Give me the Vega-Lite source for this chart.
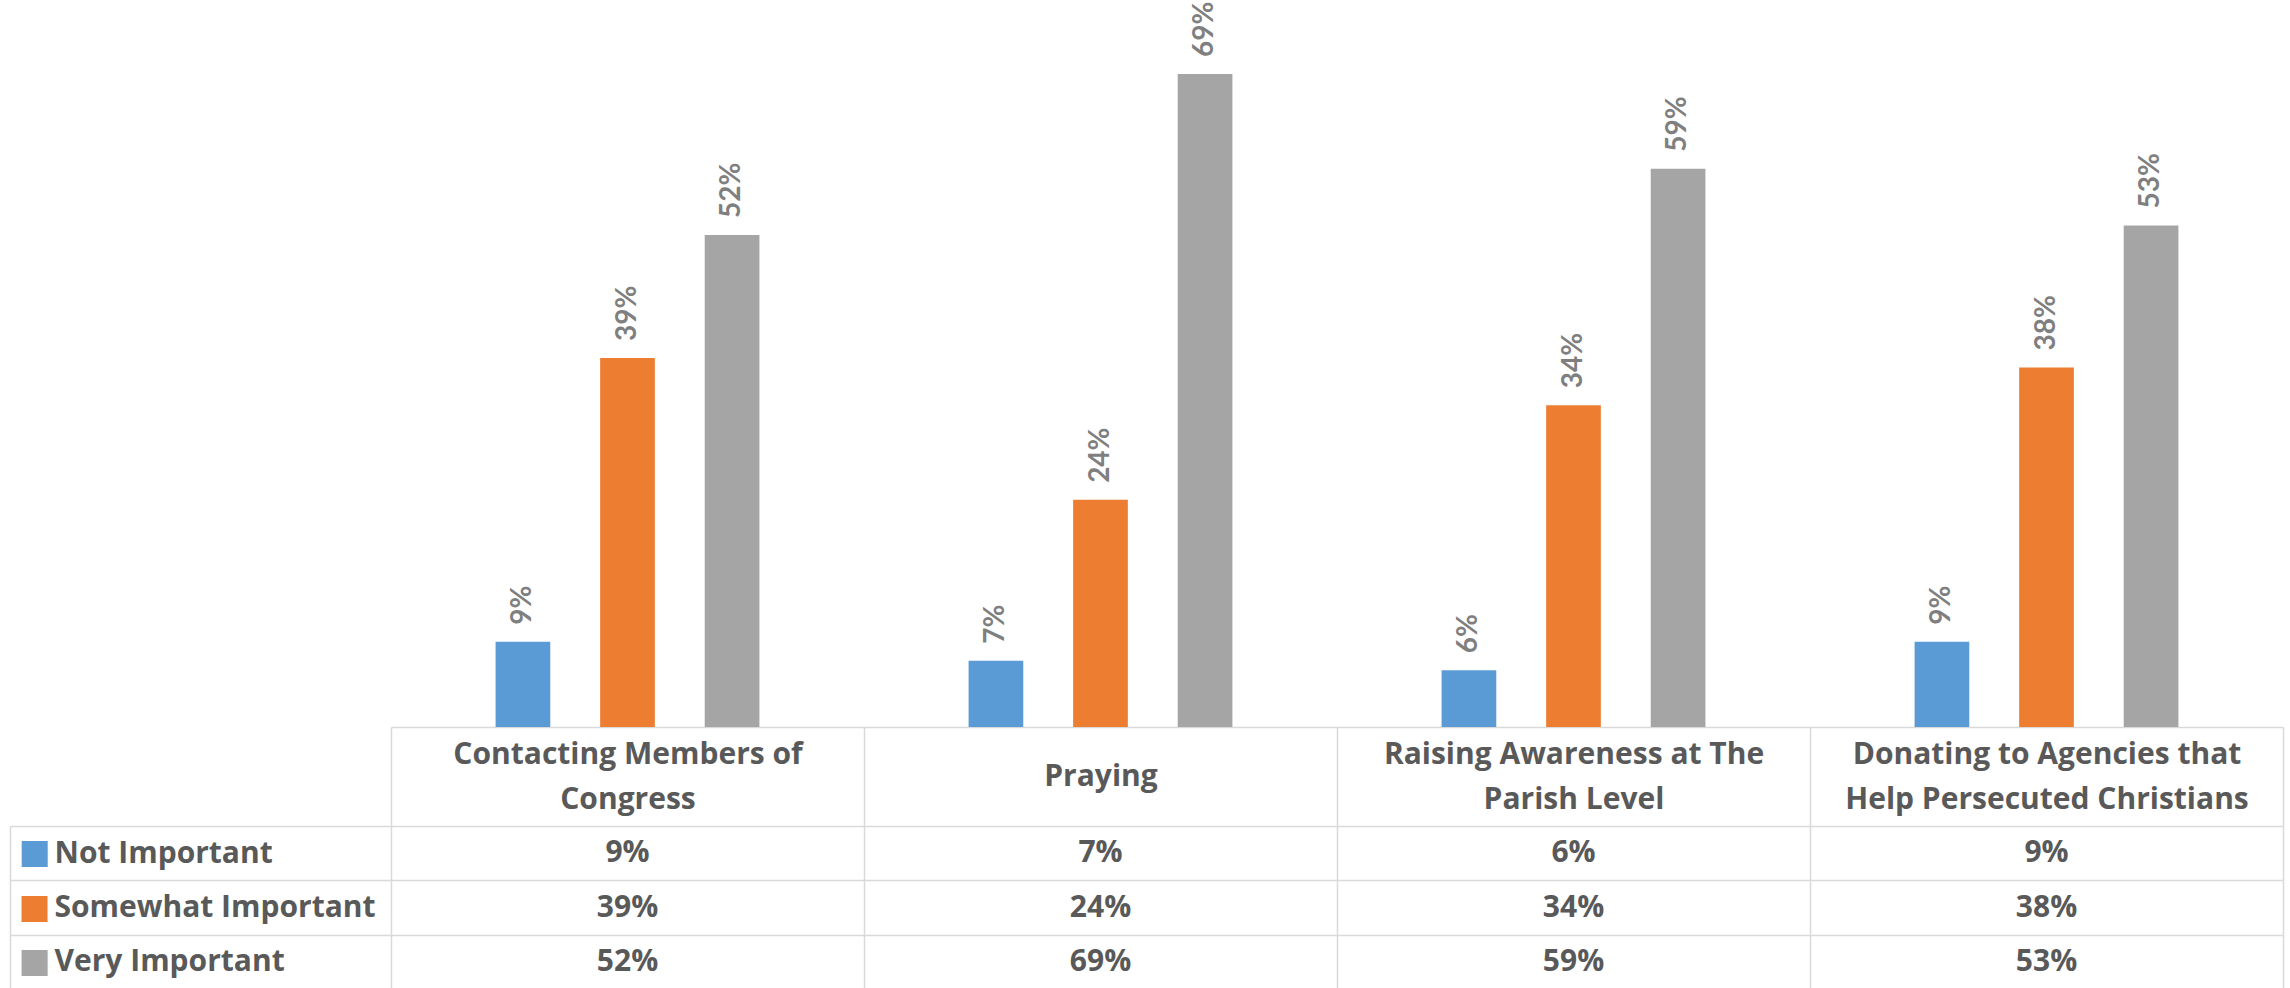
{
  "$schema": "https://vega.github.io/schema/vega-lite/v6.json",
  "background": "white",
  "padding": {"left": 9, "right": 8, "top": 0, "bottom": -2},
  "autosize": {"type": "pad"},
  "bounds": "flush",
  "spacing": 99,
  "datasets": {
    "d": [
      {"category": "Contacting Members of Congress", "series": "Not Important", "value": 0.09},
      {"category": "Contacting Members of Congress", "series": "Somewhat Important", "value": 0.39},
      {"category": "Contacting Members of Congress", "series": "Very Important", "value": 0.52},
      {"category": "Praying", "series": "Not Important", "value": 0.07},
      {"category": "Praying", "series": "Somewhat Important", "value": 0.24},
      {"category": "Praying", "series": "Very Important", "value": 0.69},
      {"category": "Raising Awareness at The Parish Level", "series": "Not Important", "value": 0.06},
      {"category": "Raising Awareness at The Parish Level", "series": "Somewhat Important", "value": 0.34},
      {"category": "Raising Awareness at The Parish Level", "series": "Very Important", "value": 0.59},
      {"category": "Donating to Agencies that Help Persecuted Christians", "series": "Not Important", "value": 0.09},
      {"category": "Donating to Agencies that Help Persecuted Christians", "series": "Somewhat Important", "value": 0.38},
      {"category": "Donating to Agencies that Help Persecuted Christians", "series": "Very Important", "value": 0.53}
    ]
  },
  "data": {"name": "d"},
  "vconcat": [
    {
      "width": 1892,
      "height": 727,
      "view": {"stroke": null},
      "encoding": {
        "x": {
          "field": "category", "type": "nominal",
          "sort": ["Contacting Members of Congress", "Praying", "Raising Awareness at The Parish Level", "Donating to Agencies that Help Persecuted Christians"],
          "scale": {"paddingInner": 0, "paddingOuter": 0},
          "axis": {"orient": "bottom", "title": null, "labels": false, "ticks": false, "grid": false, "domain": true, "domainColor": "#d9d9d9", "domainWidth": 1.5}
        },
        "xOffset": {
          "field": "series", "type": "nominal",
          "sort": ["Not Important", "Somewhat Important", "Very Important"],
          "scale": {"paddingInner": 0.477, "paddingOuter": 1.16}
        },
        "y": {
          "field": "value", "type": "quantitative",
          "scale": {"domain": [0, 0.7682], "nice": false, "zero": true},
          "axis": null
        }
      },
      "layer": [
        {
          "mark": {"type": "bar"},
          "encoding": {
            "color": {
              "field": "series", "type": "nominal",
              "scale": {"domain": ["Not Important", "Somewhat Important", "Very Important"], "range": ["#5b9bd5", "#ed7d31", "#a5a5a5"]},
              "legend": null
            }
          }
        },
        {
          "mark": {"type": "text", "angle": 270, "align": "left", "baseline": "middle", "dx": 17, "font": "Lato", "fontSize": 28, "fontWeight": "bold", "color": "#7f7f7f"},
          "encoding": {
            "text": {"field": "value", "type": "quantitative", "format": ".0%"}
          }
        }
      ]
    },
    {
      "width": 1892,
      "height": 163,
      "view": {"stroke": null},
      "layer": [
        {
          "mark": {"type": "text", "font": "Open Sans", "fontSize": 30, "fontWeight": "bold", "color": "#595959", "baseline": "middle"},
          "encoding": {
            "x": {
              "field": "category", "type": "nominal",
              "sort": ["Contacting Members of Congress", "Praying", "Raising Awareness at The Parish Level", "Donating to Agencies that Help Persecuted Christians"],
              "scale": {"paddingInner": 0, "paddingOuter": 0},
              "axis": {
                "orient": "top", "title": null, "tickBand": "extent",
                "grid": true, "gridColor": "#d9d9d9", "gridWidth": 1.5,
                "ticks": true, "tickSize": 99, "tickColor": "#d9d9d9", "tickWidth": 1.5,
                "domain": false,
                "labelExpr": "datum.value == 'Contacting Members of Congress' ? ['Contacting Members of', 'Congress'] : datum.value == 'Raising Awareness at The Parish Level' ? ['Raising Awareness at The', 'Parish Level'] : datum.value == 'Donating to Agencies that Help Persecuted Christians' ? ['Donating to Agencies that', 'Help Persecuted Christians'] : datum.value",
                "labelAngle": 0, "labelAlign": "center", "labelBaseline": "middle",
                "labelPadding": {"condition": {"test": "datum.value == 'Praying'", "value": -49.5}, "value": -27},
                "labelFont": "Open Sans", "labelFontSize": 30, "labelFontWeight": "bold",
                "labelColor": "#595959", "labelLineHeight": 45, "labelLimit": 0
              }
            },
            "y": {
              "field": "series", "type": "nominal",
              "sort": ["Not Important", "Somewhat Important", "Very Important"],
              "scale": {"paddingInner": 0, "paddingOuter": 0},
              "axis": {
                "orient": "left", "title": null, "tickBand": "extent",
                "grid": true, "gridColor": "#d9d9d9", "gridWidth": 1.5,
                "ticks": true, "tickSize": 381, "tickColor": "#d9d9d9", "tickWidth": 1.5,
                "domain": false,
                "labelAlign": "left", "labelBaseline": "middle", "labelPadding": -44,
                "labelFont": "Open Sans", "labelFontSize": 30, "labelFontWeight": "bold",
                "labelColor": "#595959", "labelLimit": 0
              }
            },
            "text": {"field": "value", "type": "quantitative", "format": ".0%"}
          }
        },
        {
          "mark": {"type": "text", "opacity": 0},
          "encoding": {
            "y": {
              "field": "series", "type": "nominal",
              "sort": ["Not Important", "Somewhat Important", "Very Important"],
              "axis": {
                "orient": "left", "offset": 381, "title": null,
                "ticks": false, "grid": false,
                "domain": true, "domainColor": "#d9d9d9", "domainWidth": 1.5,
                "labelExpr": "'■'", "labelAlign": "left", "labelBaseline": "middle", "labelPadding": -8,
                "labelFont": "DejaVu Sans", "labelFontSize": 34,
                "labelColor": {
                  "condition": [
                    {"test": "datum.value === 'Not Important'", "value": "#5b9bd5"},
                    {"test": "datum.value === 'Somewhat Important'", "value": "#ed7d31"}
                  ],
                  "value": "#a5a5a5"
                }
              }
            },
            "text": {"value": ""}
          }
        }
      ],
      "resolve": {"axis": {"y": "independent"}}
    }
  ]
}
